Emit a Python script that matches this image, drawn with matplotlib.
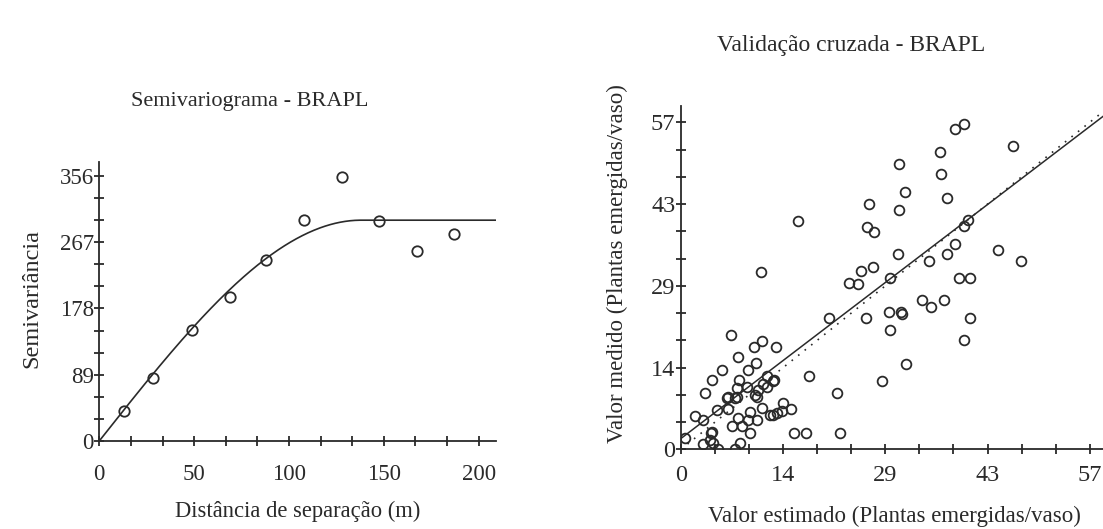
import numpy as np
import matplotlib
matplotlib.use("Agg")
import matplotlib.pyplot as plt

# ---------------- data ----------------
# Semivariogram (left)
lag_dist = [13, 28.3, 49, 69, 88.1, 108, 127.7, 147.3, 167.7, 187.2]
semivar = [40.2, 85, 149, 193.6, 242.4, 297.4, 354.6, 296, 255, 278]
# fitted spherical model parameters
model_nugget = 0.0
model_sill = 296.5
model_range = 138.0
left_xticklabels = ["0", "50", "100", "150", "200"]
left_yticklabels = ["0", "89", "178", "267", "356"]

# Cross validation (right)
estimated = [39.7, 38.4, 46.6, 36.4, 30.6, 36.5, 31.4, 37.3, 26.4, 30.6, 16.4, 40.2, 39.7,
             26.1, 27.1, 38.5, 44.5, 30.4, 37.3, 34.8, 47.7, 11.2, 26.9, 25.3, 23.6, 24.9,
             29.3, 39.0, 40.5, 33.8, 35.1, 36.9, 29.2, 30.8, 31.0, 20.7, 26.0, 40.5, 29.3,
             39.7, 31.6, 18.0, 28.2, 21.9, 22.3, 15.9, 17.5,
             7.0, 11.3, 10.2, 13.3, 8.0, 10.5, 5.8, 9.4, 4.4, 12.1, 13.1, 3.4, 7.9, 7.6,
             10.4, 10.6, 10.8, 9.2, 6.4, 12.0, 7.8, 8.2, 9.7, 2.0, 3.1, 5.0, 6.6, 7.1, 8.6,
             8.0, 9.4, 10.6, 11.3, 12.5, 12.9, 14.3, 15.5, 13.4, 14.1, 4.2, 4.4, 3.1, 4.5,
             5.2, 7.6, 8.3, 9.7, 0.6, 6.6, 11.5, 12.9, 4.1]
measured = [57.0, 56.2, 53.1, 52.2, 50.0, 48.2, 45.2, 44.1, 43.0, 41.9, 40.1, 40.2, 39.1,
            38.9, 38.1, 36.0, 35.0, 34.2, 34.2, 33.1, 33.1, 31.1, 32.0, 31.2, 29.1, 29.0,
            30.1, 30.1, 30.1, 26.1, 24.9, 26.1, 24.0, 24.0, 23.8, 23.1, 23.1, 23.1, 20.9,
            19.1, 15.0, 12.9, 12.0, 9.8, 2.9, 2.9, 2.9,
            20.1, 19.0, 17.9, 17.9, 16.1, 15.1, 13.9, 13.9, 12.2, 12.9, 12.2, 9.8, 9.2, 9.0,
            9.5, 9.2, 10.4, 10.9, 9.0, 11.0, 10.7, 12.2, 6.6, 5.8, 5.1, 6.9, 7.0, 4.0, 4.0,
            5.4, 5.1, 5.1, 7.2, 6.0, 6.0, 8.1, 7.0, 6.4, 6.8, 2.8, 3.0, 0.9, 1.1,
            0.0, 0.0, 1.1, 2.8, 1.9, 9.1, 11.5, 12.0, 1.6]
reg_intercept = 1.9
reg_slope = 0.954
right_ticklabels = ["0", "14", "29", "43", "57"]

# ---------------- style ----------------
plt.rcParams["font.family"] = ["Liberation Serif", "DejaVu Serif"]
ink = "#2a2a2a"

fig = plt.figure(figsize=(11.03, 5.29), dpi=100)


def style_axes(ax, fs):
    for s in ["top", "right"]:
        ax.spines[s].set_visible(False)
    for s in ["left", "bottom"]:
        ax.spines[s].set_color(ink)
        ax.spines[s].set_linewidth(1.3)
    ax.tick_params(direction="inout", length=7, width=1.3, color=ink,
                   labelsize=fs, labelcolor=ink)
    ax.tick_params(axis="y", pad=0.5)


# ---------------- left panel ----------------
axL = fig.add_axes([0.090, 0.1664, 0.360, 0.5276])
style_axes(axL, 16.5)
h = np.linspace(0, 209.3, 400)
hr = np.minimum(h / model_range, 1.0)
gamma = model_nugget + (model_sill - model_nugget) * (1.5 * hr - 0.5 * hr ** 3)
axL.plot(h, gamma, color=ink, lw=1.2)
axL.plot(lag_dist, semivar, ls="none", marker="o", ms=7.5, mfc="none",
         mec=ink, mew=1.3)
axL.set_xlim(0, 209.3)
axL.set_ylim(0, 374.8)
xt = np.arange(13) * 200 / 12
axL.set_xticks(xt)
axL.set_xticklabels([left_xticklabels[i // 3] if i % 3 == 0 else "" for i in range(13)])
yt = np.arange(13) * 356 / 12
axL.set_yticks(yt)
axL.set_yticklabels([left_yticklabels[i // 3] if i % 3 == 0 else "" for i in range(13)])
axL.tick_params(axis="x", pad=13)
fig.text(250 / 1103, 1 - 101.7 / 529, "Semivariograma - BRAPL", ha="center",
         va="center", fontsize=16, color=ink)
fig.text(298 / 1103, 1 - 511.7 / 529, "Distância de separação (m)", ha="center",
         va="center", fontsize=16.3, color=ink)
fig.text(32 / 1103, 1 - 298 / 529, "Semivariância", ha="center", va="center",
         rotation=90, fontsize=17.5, color=ink)

# ---------------- right panel ----------------
axR = fig.add_axes([0.6174, 0.1507, 0.3826, 0.6489])
style_axes(axR, 17.5)
axR.spines["bottom"].set_bounds(0, 59.2)
xr = np.array([0, 59.2])
axR.plot(xr, xr, color=ink, lw=1.2, ls=(0, (1, 4)))
axR.plot(xr, reg_intercept + reg_slope * xr, color=ink, lw=1.1)
axR.plot(estimated, measured, ls="none", marker="o", ms=7.0, mfc="none",
         mec=ink, mew=1.3)
axR.set_xlim(0, 59.2)
axR.set_ylim(0, 60.2)
rt = np.arange(13) * 57.33 / 12
axR.set_xticks(rt)
axR.set_xticklabels([right_ticklabels[i // 3] if i % 3 == 0 else "" for i in range(13)])
axR.set_yticks(rt)
axR.set_yticklabels([right_ticklabels[i // 3] if i % 3 == 0 else "" for i in range(13)])
axR.tick_params(axis="x", pad=8)
fig.text(851 / 1103, 1 - 45 / 529, "Validação cruzada - BRAPL", ha="center",
         va="center", fontsize=17, color=ink)
fig.text(894 / 1103, 1 - 516 / 529, "Valor estimado (Plantas emergidas/vaso)",
         ha="center", va="center", fontsize=16.5, color=ink)
fig.text(617 / 1103, 1 - 264 / 529, "Valor medido (Plantas emergidas/vaso)",
         ha="center", va="center", rotation=90, fontsize=16.5, color=ink)

fig.savefig("out.png", dpi=100)
